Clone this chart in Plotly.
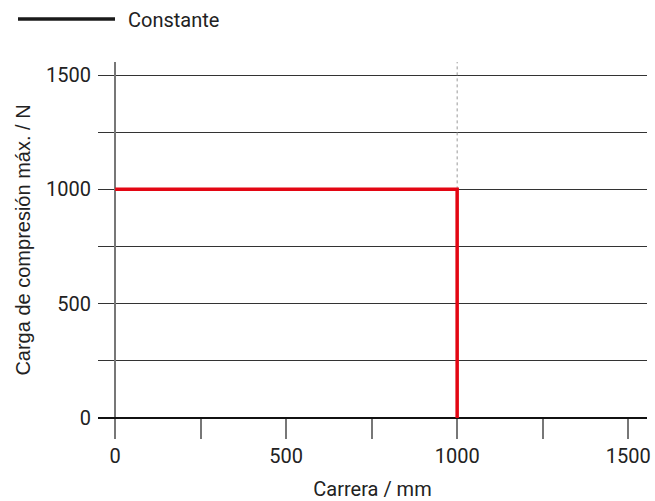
import plotly.graph_objects as go

# Data
carrera = [0, 1000, 1000]          # mm
carga = [1000, 1000, 0]            # N
limite_x = [1000, 1000]
limite_y = [1000, 1557]
serie = "Constante"

x_ticks = [0, 250, 500, 750, 1000, 1250, 1500]
x_labels = ["0", "", "500", "", "1000", "", "1500"]
y_ticks = [0, 250, 500, 750, 1000, 1250, 1500]
y_labels = ["0", "", "500", "", "1000", "", "1500"]

fig = go.Figure()
fig.add_trace(go.Scatter(x=limite_x, y=limite_y, mode="lines",
                         line=dict(color="#999999", width=1, dash="dot"),
                         showlegend=False, hoverinfo="skip"))
fig.add_trace(go.Scatter(x=carrera, y=carga, mode="lines", name=serie,
                         line=dict(color="#e30613", width=3.5),
                         showlegend=False))

# legend drawn manually
fig.add_shape(type="line", xref="paper", yref="paper",
              x0=(18 - 98) / 549, x1=(115 - 98) / 549,
              y0=(418 - 19) / 356, y1=(418 - 19) / 356,
              line=dict(color="#1a1a1a", width=3.5))
fig.add_annotation(text=serie, xref="paper", yref="paper",
                   x=(126 - 98) / 549, y=(418 - 20) / 356,
                   xanchor="left", yanchor="middle", showarrow=False,
                   font=dict(family="Roboto", size=20, color="#222222"))

fig.update_layout(
    width=655, height=501,
    margin=dict(l=98, r=8, t=62, b=83, autoexpand=False),
    plot_bgcolor="white", paper_bgcolor="white",
    font=dict(family="Roboto", size=20, color="#222222"),
    showlegend=False,
    xaxis=dict(range=[-50, 1555], tickvals=x_ticks, ticktext=x_labels,
               ticks="outside", ticklen=20, tickwidth=1.5, tickcolor="#777777",
               showgrid=False, zeroline=True, zerolinecolor="#777777",
               zerolinewidth=1.5, showline=False, automargin=False,
               tickfont=dict(family="Roboto", size=20),
               title=dict(text="Carrera / mm", standoff=16,
                          font=dict(family="Roboto", size=20))),
    yaxis=dict(range=[0, 1557], tickvals=y_ticks, ticktext=y_labels,
               ticks="", showgrid=True, gridcolor="#333333", gridwidth=1,
               zeroline=True, zerolinecolor="#111111", zerolinewidth=1.5,
               showline=False, ticklabelstandoff=6, automargin=False,
               tickfont=dict(family="Roboto", size=20),
               title=dict(text="Carga de compresión máx. / N", standoff=10,
                          font=dict(family="Liberation Sans", size=20))),
)

fig.write_html("out.html", config={"displayModeBar": False},
               post_script="document.body.style.margin='0';"
                           "document.body.style.padding='0';")
